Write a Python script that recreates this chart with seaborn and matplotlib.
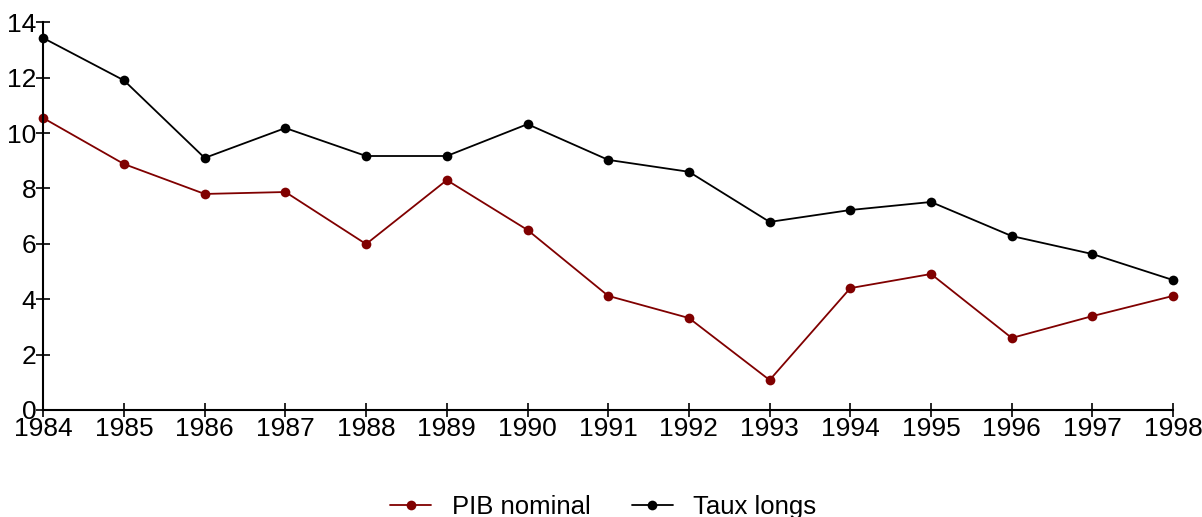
import pandas as pd
import numpy as np
import matplotlib.pyplot as plt
import seaborn as sns

annees = list(range(1984, 1999))
pib_nominal = [10.54, 8.88, 7.80, 7.87, 5.99, 8.30, 6.50, 4.12, 3.32, 1.08, 4.40, 4.91, 2.60, 3.39, 4.12]
taux_longs = [13.43, 11.90, 9.10, 10.18, 9.17, 9.17, 10.32, 9.03, 8.60, 6.79, 7.22, 7.51, 6.28, 5.63, 4.69]
series = ["PIB nominal", "Taux longs"]
couleurs = ["#800000", "#000000"]

df = pd.DataFrame({
    "annee": annees * 2,
    "valeur": pib_nominal + taux_longs,
    "serie": [series[0]] * len(annees) + [series[1]] * len(annees),
})

sns.set_style("white")
plt.rcParams['font.family'] = ['Liberation Sans', 'DejaVu Sans']
plt.rcParams['text.color'] = 'black'

fig = plt.figure(figsize=(12.02, 5.17), dpi=100)
ax = fig.add_axes([0.036, 0.207, 0.94, 0.75])

sns.lineplot(data=df, x="annee", y="valeur", hue="serie", palette=couleurs,
             marker="o", markersize=7, markeredgewidth=0, linewidth=1.3,
             ax=ax, legend=True)

ax.set_xlim(1984, 1998)
ax.set_ylim(0, 14)
ax.set_xticks(annees)
ax.set_yticks(np.arange(0, 15, 2))
ax.set_xlabel("")
ax.set_ylabel("")
for s in ["top", "right"]:
    ax.spines[s].set_visible(False)
for s in ["left", "bottom"]:
    ax.spines[s].set_color("black")
    ax.spines[s].set_linewidth(1.5)
ax.tick_params(axis="both", direction="inout", length=10, width=1.2,
               labelsize=19, colors="black", pad=0, left=True, bottom=True)
for p in ax.lines:
    p.set_clip_on(False)

handles, labels = ax.get_legend_handles_labels()
ax.get_legend().remove()
leg = fig.legend(handles, labels, loc="center", bbox_to_anchor=(0.502, 0.02), ncol=2,
                 frameon=False, fontsize=18.5, handlelength=1.6, handletextpad=0.8,
                 columnspacing=1.6)
for t in leg.get_texts():
    t.set_color("black")

fig.savefig("out.png", dpi=100)
